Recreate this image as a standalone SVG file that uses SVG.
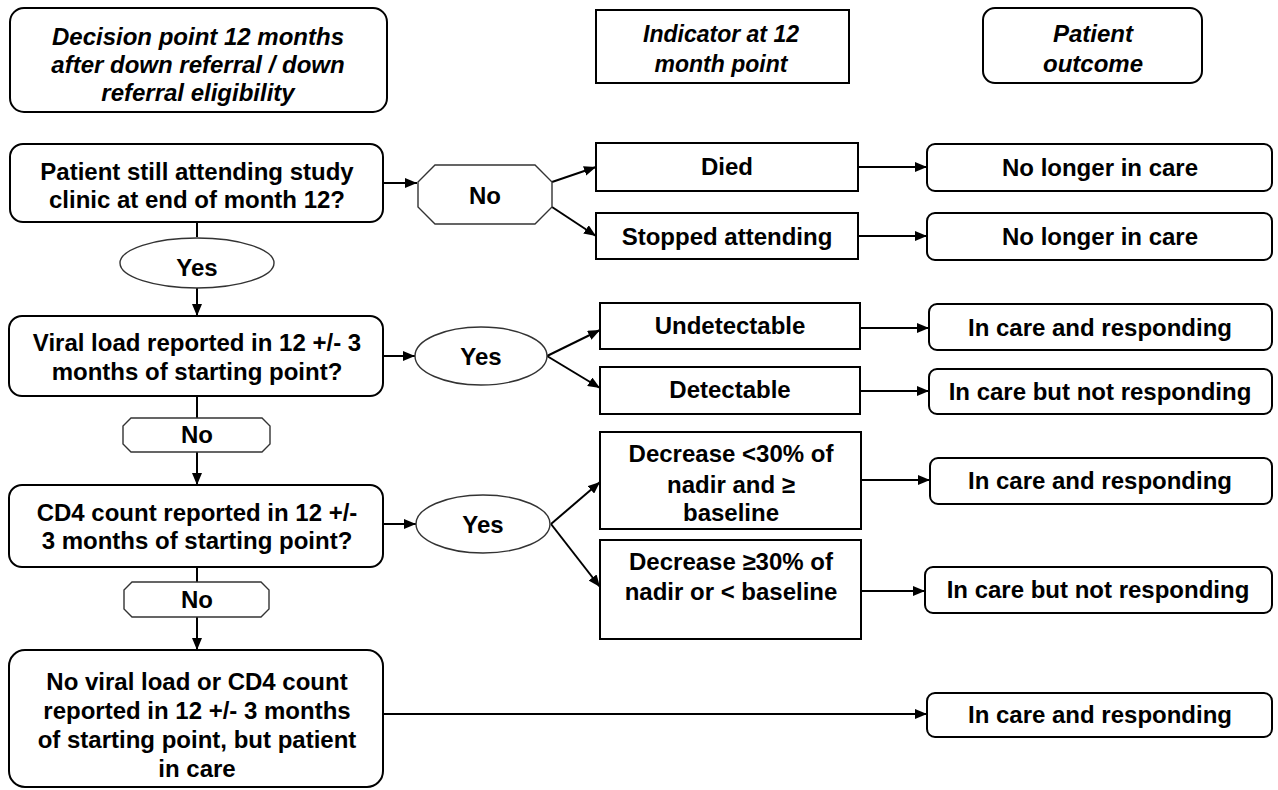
<svg xmlns="http://www.w3.org/2000/svg" width="1278" height="790" viewBox="0 0 1278 790">
<style>
text{font-family:"Liberation Sans",Arial,sans-serif;font-weight:bold;font-size:24px;fill:#000;text-anchor:middle}
.it{font-style:italic}
.box{fill:#fff;stroke:#000;stroke-width:2}
.lab{fill:#fff;stroke:#333;stroke-width:1.4}
.ln{fill:none;stroke:#000;stroke-width:2}
</style>
<defs>
<marker id="ah" viewBox="0 0 12 10" refX="12" refY="5" markerWidth="12" markerHeight="10" markerUnits="userSpaceOnUse" orient="auto">
<path d="M0,0 L12,5 L0,10 Z" fill="#000"/>
</marker>
</defs>
<rect width="1278" height="790" fill="#fff"/>
<g id="connectors">
<line class="ln" x1="383" y1="183" x2="417" y2="183" marker-end="url(#ah)"/>
<line class="ln" x1="552" y1="182" x2="596" y2="167" marker-end="url(#ah)"/>
<line class="ln" x1="552" y1="207" x2="596" y2="236" marker-end="url(#ah)"/>
<line class="ln" x1="858" y1="167" x2="927" y2="167" marker-end="url(#ah)"/>
<line class="ln" x1="858" y1="236" x2="927" y2="236" marker-end="url(#ah)"/>
<line class="ln" x1="197" y1="222" x2="197" y2="237"/>
<line class="ln" x1="197" y1="288" x2="197" y2="316" marker-end="url(#ah)"/>
<line class="ln" x1="383" y1="356" x2="415" y2="356" marker-end="url(#ah)"/>
<line class="ln" x1="547" y1="356" x2="600" y2="330" marker-end="url(#ah)"/>
<line class="ln" x1="547" y1="356" x2="600" y2="388" marker-end="url(#ah)"/>
<line class="ln" x1="860" y1="328" x2="929" y2="328" marker-end="url(#ah)"/>
<line class="ln" x1="860" y1="391" x2="929" y2="391" marker-end="url(#ah)"/>
<line class="ln" x1="197" y1="396" x2="197" y2="418"/>
<line class="ln" x1="197" y1="452" x2="197" y2="485" marker-end="url(#ah)"/>
<line class="ln" x1="383" y1="524" x2="416" y2="524" marker-end="url(#ah)"/>
<line class="ln" x1="551" y1="524" x2="600" y2="482" marker-end="url(#ah)"/>
<line class="ln" x1="551" y1="524" x2="600" y2="587" marker-end="url(#ah)"/>
<line class="ln" x1="861" y1="480" x2="930" y2="480" marker-end="url(#ah)"/>
<line class="ln" x1="861" y1="591" x2="925" y2="591" marker-end="url(#ah)"/>
<line class="ln" x1="197" y1="567" x2="197" y2="582"/>
<line class="ln" x1="197" y1="617" x2="197" y2="650" marker-end="url(#ah)"/>
<line class="ln" x1="383" y1="714" x2="927" y2="714" marker-end="url(#ah)"/>
</g>
<g id="h1"><rect class="box" x="10" y="8" width="377" height="104" rx="14"/>
<text class="it" x="198" y="45">Decision point 12 months</text>
<text class="it" x="198" y="73">after down referral / down</text>
<text class="it" x="198" y="101">referral eligibility</text></g>
<g id="h2"><rect class="box" x="596" y="10" width="253" height="73"/>
<text class="it" x="721" y="42" style="font-size:23px">Indicator at 12</text>
<text class="it" x="721" y="72" style="font-size:23px">month point</text></g>
<g id="h3"><rect class="box" x="983" y="8" width="219" height="75" rx="12"/>
<text class="it" x="1093" y="42">Patient</text>
<text class="it" x="1093" y="72">outcome</text></g>
<g id="q1"><rect class="box" x="10" y="144" width="373" height="78" rx="13"/>
<text x="197" y="180">Patient still attending study</text>
<text x="197" y="208">clinic at end of month 12?</text></g>
<g id="no1"><polygon class="lab" points="435,165 535,165 552,182 552,207 535,224 435,224 418,207 418,182"/>
<text x="485" y="204">No</text></g>
<g id="died"><rect class="box" x="596" y="143" width="262" height="48"/>
<text x="727" y="175">Died</text></g>
<g id="stopped"><rect class="box" x="596" y="213" width="262" height="46"/>
<text x="727" y="245">Stopped attending</text></g>
<g id="o1"><rect class="box" x="927" y="144" width="345" height="47" rx="8"/>
<text x="1100" y="176">No longer in care</text></g>
<g id="o2"><rect class="box" x="927" y="213" width="345" height="47" rx="8"/>
<text x="1100" y="245">No longer in care</text></g>
<g id="yes1"><ellipse class="lab" cx="197" cy="263" rx="77" ry="25"/>
<text x="197" y="276">Yes</text></g>
<g id="q2"><rect class="box" x="9" y="316" width="374" height="80" rx="13"/>
<text x="197" y="351">Viral load reported in 12 +/- 3</text>
<text x="197" y="380">months of starting point?</text></g>
<g id="yes2"><ellipse class="lab" cx="481" cy="356" rx="66" ry="29"/>
<text x="481" y="365">Yes</text></g>
<g id="undet"><rect class="box" x="600" y="303" width="260" height="46"/>
<text x="730" y="334">Undetectable</text></g>
<g id="det"><rect class="box" x="600" y="367" width="260" height="47"/>
<text x="730" y="398">Detectable</text></g>
<g id="o3"><rect class="box" x="929" y="304" width="343" height="46" rx="8"/>
<text x="1100" y="336">In care and responding</text></g>
<g id="o4"><rect class="box" x="929" y="369" width="343" height="45" rx="8"/>
<text x="1100" y="400">In care but not responding</text></g>
<g id="no2"><polygon class="lab" points="131,418 262,418 270,426 270,444 262,452 131,452 123,444 123,426"/>
<text x="197" y="443">No</text></g>
<g id="q3"><rect class="box" x="9" y="485" width="374" height="82" rx="13"/>
<text x="197" y="521">CD4 count reported in 12 +/-</text>
<text x="197" y="549">3 months of starting point?</text></g>
<g id="yes3"><ellipse class="lab" cx="483" cy="524" rx="67" ry="29"/>
<text x="483" y="533">Yes</text></g>
<g id="dec1"><rect class="box" x="600" y="432" width="261" height="97"/>
<text x="731" y="462">Decrease &lt;30% of</text>
<text x="731" y="493">nadir and ≥</text>
<text x="731" y="521">baseline</text></g>
<g id="dec2"><rect class="box" x="600" y="540" width="261" height="99"/>
<text x="731" y="570">Decrease ≥30% of</text>
<text x="731" y="600">nadir or &lt; baseline</text></g>
<g id="o5"><rect class="box" x="930" y="458" width="342" height="46" rx="8"/>
<text x="1100" y="489">In care and responding</text></g>
<g id="o6"><rect class="box" x="925" y="567" width="347" height="46" rx="8"/>
<text x="1098" y="598">In care but not responding</text></g>
<g id="no3"><polygon class="lab" points="132,582 261,582 269,590 269,609 261,617 132,617 124,609 124,590"/>
<text x="197" y="608">No</text></g>
<g id="q4"><rect class="box" x="9" y="650" width="374" height="137" rx="16"/>
<text x="197" y="690">No viral load or CD4 count</text>
<text x="197" y="719">reported in 12 +/- 3 months</text>
<text x="197" y="748">of starting point, but patient</text>
<text x="197" y="777">in care</text></g>
<g id="o7"><rect class="box" x="927" y="693" width="345" height="44" rx="8"/>
<text x="1100" y="723">In care and responding</text></g>
</svg>
